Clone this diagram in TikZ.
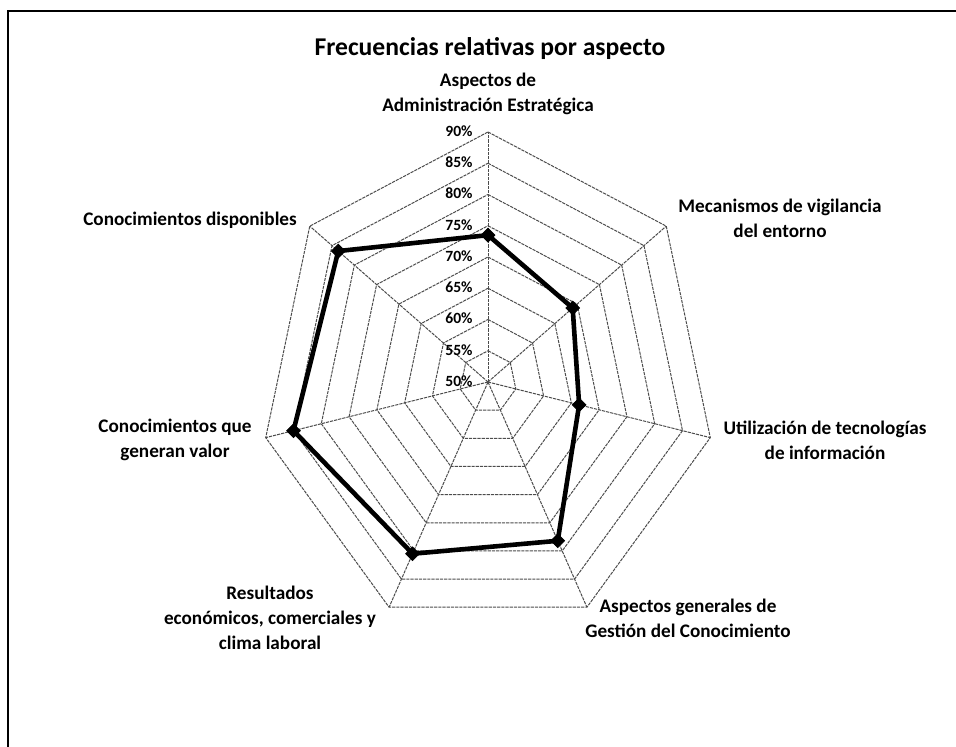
\documentclass[tikz,border=0pt]{standalone}
\usepackage{fontspec}
\setmainfont{Carlito}
\usetikzlibrary{shapes.geometric}

\begin{document}
\begin{tikzpicture}[x=0.5pt, y=0.5pt]
\tikzset{rejilla/.style={black!70, line width=0.5pt, dash pattern=on 1.6pt off 0.5pt}}
\tikzset{serie/.style={black, line width=2.3pt, line join=round}}
\tikzset{marca/.style={draw, fill=black, diamond, inner sep=0pt, minimum size=7pt}}
\tikzset{etiqueta/.style={font=\bfseries\fontsize{9.6}{12.4}\selectfont, align=center, inner sep=0pt}}
\tikzset{porcentaje/.style={font=\bfseries\fontsize{7.8}{8}\selectfont, anchor=east, inner sep=0pt}}
\clip (0, 0) rectangle (956, 746);
\useasboundingbox (0, 0) rectangle (956, 746);
\draw[line width=1pt] (8, -40) rectangle (1010, 735);
\node[font=\bfseries\fontsize{12.8}{15}\selectfont] (titulo) at (490, 697) {Frecuencias relativas por aspecto};
% rejilla del radar
\begin{scope}[shift={(488, 364)}, x=114pt, y=125pt]
\foreach \r in {1,...,8}
  \draw[rejilla] (90:\r/8) \foreach \k in {1,...,6} {-- (90-\k*360/7:\r/8)} -- cycle;
\foreach \k in {0,...,6}
  \draw[rejilla] (0, 0) -- (90-\k*360/7:1);
\node[marca] (M1) at (90:0.5875) {};
\node[marca] (M2) at (90-360/7:0.475) {};
\node[marca] (M3) at (90-2*360/7:0.41) {};
\node[marca] (M4) at (90-3*360/7:0.705) {};
\node[marca] (M5) at (90-4*360/7:0.7625) {};
\node[marca] (M6) at (90-5*360/7:0.875) {};
\node[marca] (M7) at (90-6*360/7:0.84) {};
\draw[serie] (M1.center) -- (M2.center) -- (M3.center) -- (M4.center) -- (M5.center) -- (M6.center) -- (M7.center) -- cycle;
\end{scope}
% escala
\foreach \k in {0,...,8}
  \node[porcentaje] (P\k) at (473, 365+31.25*\k) {\pgfmathparse{int(50+5*\k)}\pgfmathresult\%};
% nombres de los ejes
\node[etiqueta] (E1) at (488, 652) {Aspectos de\\Administración Estratégica};
\node[etiqueta] (E2) at (780, 528) {Mecanismos de vigilancia\\del entorno};
\node[etiqueta] (E3) at (825, 306) {Utilización de tecnologías\\de información};
\node[etiqueta] (E4) at (688, 128) {Aspectos generales de\\Gestión del Conocimiento};
\node[etiqueta] (E5) at (270, 128) {Resultados\\económicos, comerciales y\\clima laboral};
\node[etiqueta] (E6) at (175, 306) {Conocimientos que\\generan valor};
\node[etiqueta] (E7) at (190, 526) {Conocimientos disponibles};
\end{tikzpicture}
\end{document}
